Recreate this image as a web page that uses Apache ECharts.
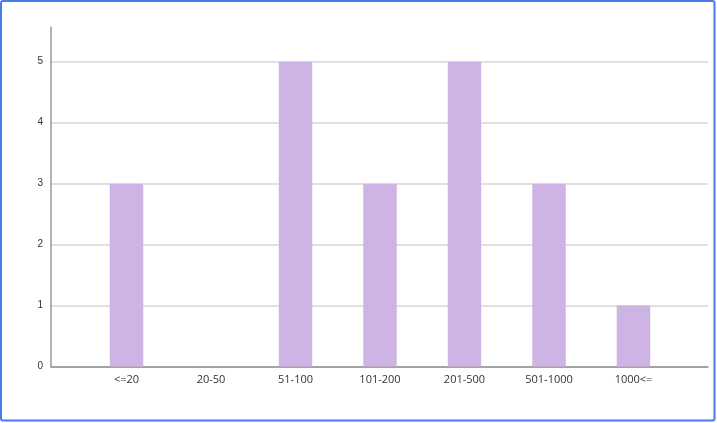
<!DOCTYPE html>
<html><head><meta charset="utf-8">
<script src="https://cdn.jsdelivr.net/npm/echarts@6/dist/echarts.min.js"></script>
<style>html,body{margin:0;padding:0;background:#fff}#c{width:717px;height:423px}</style>
</head><body><div id="c"></div>
<script>
const categories = ['<=20', '20-50', '51-100', '101-200', '201-500', '501-1000', '1000<='];
const counts = [3, 0, 5, 3, 5, 3, 1];
const yTicks = [0, 1, 2, 3, 4, 5];

const chart = echarts.init(document.getElementById('c'), null, {renderer: 'canvas'});
const yMax = 5.57;
const font = '"Open Sans", "Noto Sans", sans-serif';
chart.setOption({
  animation: false,
  backgroundColor: '#fff',
  grid: [
    {left: 51, right: 9, top: 27, bottom: 56.5},
    {left: 84.25, right: 41.25, top: 27, bottom: 56.5}
  ],
  xAxis: [
    {type: 'category', gridIndex: 0, data: [''], axisLine: {lineStyle: {color: '#8e8e8e', width: 1.5}},
     axisTick: {show: false}, axisLabel: {show: false}, splitLine: {show: false}},
    {type: 'category', gridIndex: 1, data: categories, axisLine: {show: false}, axisTick: {show: false},
     axisLabel: {color: '#333', fontSize: 11, fontFamily: font, margin: 8}}
  ],
  yAxis: [
    {type: 'value', gridIndex: 0, min: 0, max: yMax, interval: 1,
     axisLine: {show: true, lineStyle: {color: '#999', width: 1.5}}, axisTick: {show: false},
     axisLabel: {color: '#333', fontSize: 10, fontFamily: '"Liberation Sans", Arial, sans-serif', margin: 8, showMaxLabel: false,
       formatter: v => yTicks.includes(v) ? String(v) : ''},
     splitLine: {show: true, showMaxLine: false, lineStyle: {color: '#d6d6d6', width: 1.5}}},
    {type: 'value', gridIndex: 1, min: 0, max: yMax, interval: 1, show: false, splitLine: {show: false}}
  ],
  series: [{
    type: 'bar', xAxisIndex: 1, yAxisIndex: 1, data: counts, barWidth: 33.5,
    itemStyle: {color: '#cdb4e5'}
  }],
  graphic: [{
    type: 'rect', shape: {x: 1, y: 1, width: 713.5, height: 419.5, r: 2},
    style: {fill: null, stroke: '#4a7bea', lineWidth: 2}, silent: true, z: 100
  }]
});
</script></body></html>
